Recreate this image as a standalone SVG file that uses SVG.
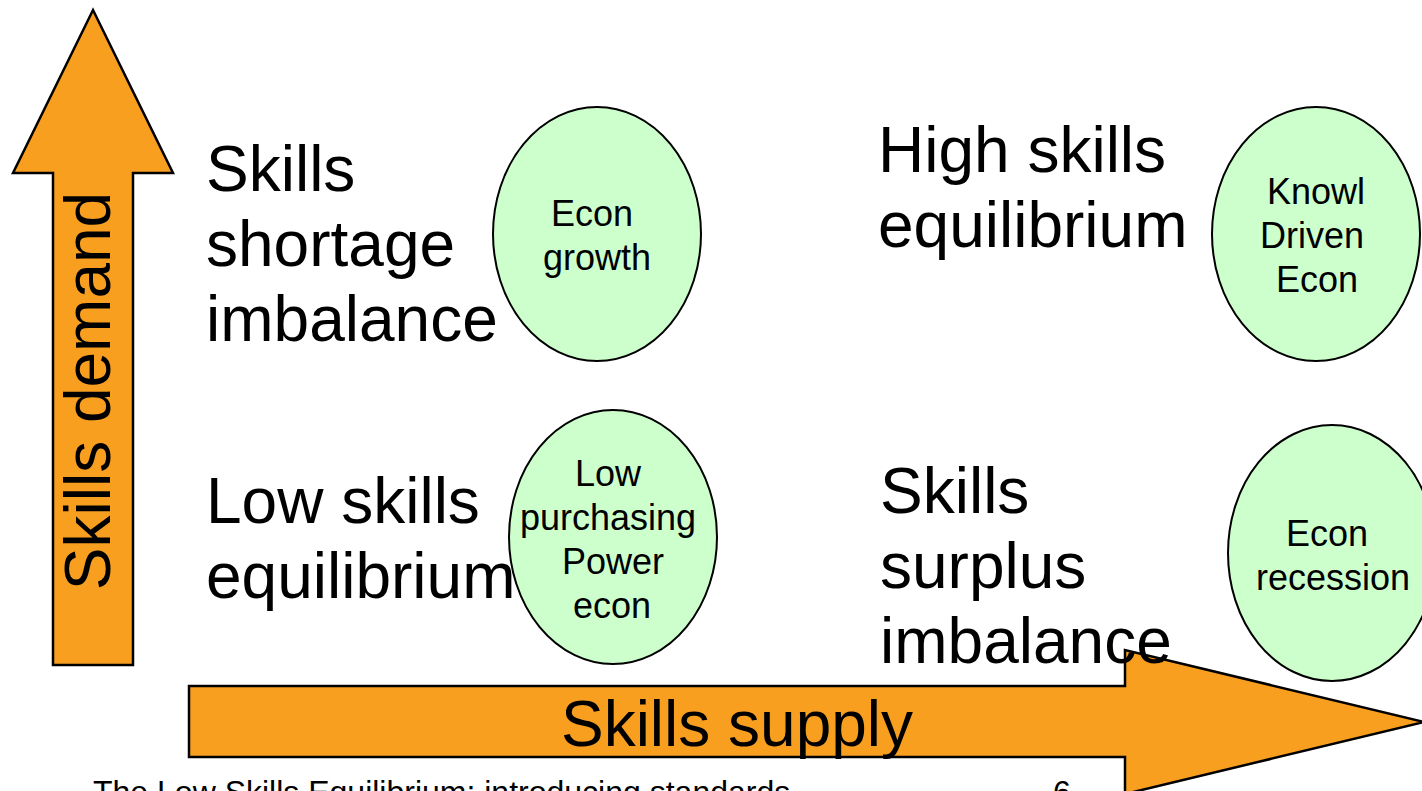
<svg xmlns="http://www.w3.org/2000/svg" width="1422" height="791" viewBox="0 0 1422 791">
<style>
.arrow{fill:#F89F1F;stroke:#000;stroke-width:2.5;stroke-linejoin:miter}
.ell{fill:#CCFFCC;stroke:#000;stroke-width:2}
.big{font-family:"Liberation Sans",Arial,sans-serif;font-size:64px;fill:#000}
.small{font-family:"Liberation Sans",Arial,sans-serif;font-size:36px;fill:#000;text-anchor:middle}
.foot{font-family:"Liberation Sans",Arial,sans-serif;font-size:32px;fill:#000}
</style>
<rect width="1422" height="791" fill="#fff"/>
<g id="connectors">
<g id="axis-demand">
<polygon class="arrow" points="93,10 173,173 133,173 133,665 53,665 53,173 13,173"/>
<text class="big" text-anchor="middle" transform="translate(110,391) rotate(-90)">Skills demand</text>
</g>
<g id="axis-supply">
<polygon class="arrow" points="189,686 1125,686 1125,650 1424,722 1125,794 1125,757 189,757"/>
<text class="big" x="737" y="746" text-anchor="middle">Skills supply</text>
</g>
</g>
<g id="q-shortage">
<text class="big" x="206" y="191">Skills</text>
<text class="big" x="206" y="266">shortage</text>
<text class="big" x="206" y="341">imbalance</text>
</g>
<g id="n-growth">
<ellipse class="ell" cx="597" cy="234" rx="104" ry="127"/>
<text class="small" x="592" y="226">Econ</text>
<text class="small" x="597" y="270">growth</text>
</g>
<g id="q-high">
<text class="big" x="878" y="172">High skills</text>
<text class="big" x="878" y="247">equilibrium</text>
</g>
<g id="n-knowl">
<ellipse class="ell" cx="1316" cy="234" rx="104" ry="127"/>
<text class="small" x="1316" y="204">Knowl</text>
<text class="small" x="1312" y="248">Driven</text>
<text class="small" x="1317" y="292">Econ</text>
</g>
<g id="q-low">
<text class="big" x="206" y="523">Low skills</text>
<text class="big" x="206" y="598">equilibrium</text>
</g>
<g id="n-lowpp">
<ellipse class="ell" cx="613" cy="537" rx="104" ry="127"/>
<text class="small" x="608" y="486">Low</text>
<text class="small" x="608" y="530">purchasing</text>
<text class="small" x="613" y="574">Power</text>
<text class="small" x="612" y="618">econ</text>
</g>
<g id="q-surplus">
<text class="big" x="880" y="513">Skills</text>
<text class="big" x="880" y="588">surplus</text>
<text class="big" x="880" y="663">imbalance</text>
</g>
<g id="n-recession">
<ellipse class="ell" cx="1332" cy="553" rx="104" ry="128"/>
<text class="small" x="1327" y="546">Econ</text>
<text class="small" x="1333" y="590">recession</text>
</g>
<g id="footer">
<text class="foot" x="93" y="803">The Low Skills Equilibrium: introducing standards</text>
<text class="foot" x="1053" y="803">6</text>
</g>
</svg>
